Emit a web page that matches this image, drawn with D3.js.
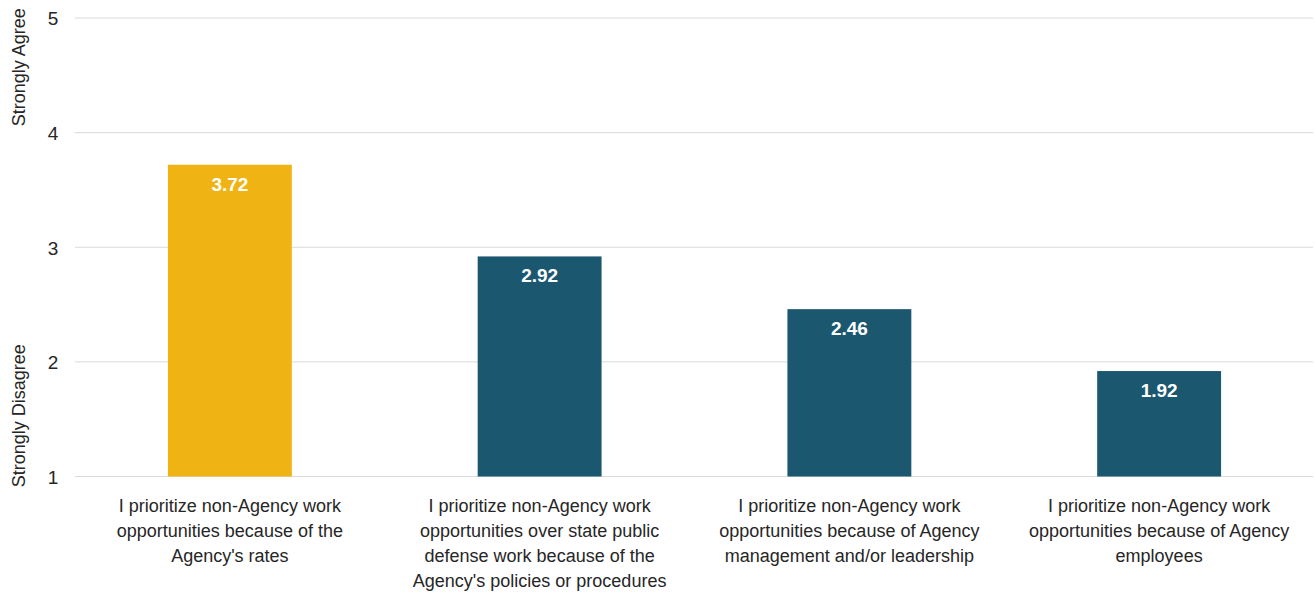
<!DOCTYPE html>
<html>
<head>
<meta charset="utf-8">
<script src="https://cdn.jsdelivr.net/npm/d3@7"></script>
<style>
  html, body { margin: 0; padding: 0; background: #fff; }
  svg text { font-family: "Liberation Sans Narrow", "Arial Narrow", "Liberation Sans", Arial, sans-serif; }
</style>
</head>
<body>
<svg id="chart" width="1315" height="596"></svg>
<script>
// Survey statements (line breaks mark the wrapped axis labels)
const categories = [
  "I prioritize non-Agency work\nopportunities because of the\nAgency's rates",
  "I prioritize non-Agency work\nopportunities over state public\ndefense work because of the\nAgency's policies or procedures",
  "I prioritize non-Agency work\nopportunities because of Agency\nmanagement and/or leadership",
  "I prioritize non-Agency work\nopportunities because of Agency\nemployees"
];
const values = [3.72, 2.92, 2.46, 1.92];
const barColors = ["#EFB314", "#1C5770", "#1C5770", "#1C5770"];
const yTicks = [1, 2, 3, 4, 5];
const yTitles = ["Strongly Agree", "Strongly Disagree"];

const svg = d3.select("#chart");
const plot = { left: 75, right: 1314, top: 18, bottom: 476.5 };

const x = d3.scaleBand()
  .domain(d3.range(categories.length))
  .range([plot.left, plot.right])
  .paddingInner(0.6)
  .paddingOuter(0.3);

const y = d3.scaleLinear().domain([1, 5]).range([plot.bottom, plot.top]);

// Horizontal gridlines
svg.append("g")
  .selectAll("line")
  .data(yTicks)
  .join("line")
  .attr("x1", plot.left).attr("x2", plot.right - 1)
  .attr("y1", d => y(d)).attr("y2", d => y(d))
  .attr("stroke", "#d9d9d9")
  .attr("stroke-width", 1);

// Y tick labels
const yAxis = svg.append("g")
  .attr("transform", `translate(${plot.left - 18},0)`)
  .call(d3.axisLeft(y).tickValues(yTicks).tickSize(0).tickPadding(0).tickFormat(d3.format("d")));
yAxis.select(".domain").remove();
yAxis.selectAll("text")
  .attr("font-size", 19)
  .attr("fill", "#262626")
  .style("font-family", "'Liberation Sans Narrow', 'Arial Narrow', sans-serif")
  .attr("text-anchor", "middle")
  .attr("dx", -4)
  .attr("dy", "0.36em");

// Y-axis end titles
svg.append("text")
  .attr("transform", `translate(25,${y(4.57)}) rotate(-90)`)
  .attr("text-anchor", "middle")
  .attr("font-size", 18)
  .attr("fill", "#262626")
  .text(yTitles[0]);
svg.append("text")
  .attr("transform", `translate(25,${y(1.53)}) rotate(-90)`)
  .attr("text-anchor", "middle")
  .attr("font-size", 18)
  .attr("fill", "#262626")
  .text(yTitles[1]);

// Bars
svg.append("g")
  .selectAll("rect")
  .data(values)
  .join("rect")
  .attr("x", (d, i) => x(i))
  .attr("width", x.bandwidth())
  .attr("y", d => y(d))
  .attr("height", d => y(1) - y(d))
  .attr("fill", (d, i) => barColors[i]);

// Value labels inside bars
svg.append("g")
  .selectAll("text")
  .data(values)
  .join("text")
  .attr("x", (d, i) => x(i) + x.bandwidth() / 2)
  .attr("y", d => y(d) + 26)
  .attr("text-anchor", "middle")
  .attr("font-size", 19)
  .attr("font-weight", "bold")
  .attr("fill", "#fff")
  .text(d => d.toFixed(2));

// Category labels
const cat = svg.append("g")
  .selectAll("text")
  .data(categories)
  .join("text")
  .attr("x", (d, i) => x(i) + x.bandwidth() / 2)
  .attr("y", 512)
  .attr("text-anchor", "middle")
  .attr("font-size", 18)
  .attr("fill", "#262626");
cat.selectAll("tspan")
  .data(d => d.split("\n"))
  .join("tspan")
  .attr("x", function () { return this.parentNode.getAttribute("x"); })
  .attr("dy", (d, i) => i === 0 ? 0 : 25)
  .text(d => d);
</script>
</body>
</html>
